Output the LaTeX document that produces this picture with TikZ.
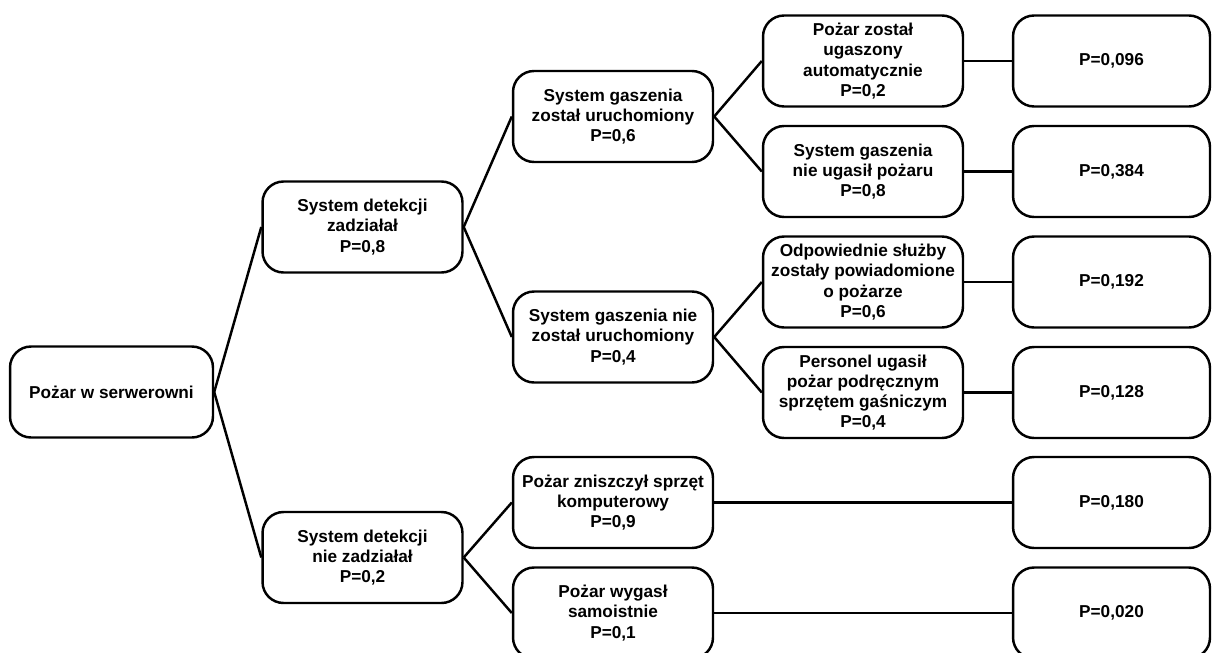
\documentclass[tikz,border=0pt]{standalone}
\usepackage{fontspec}
\setmainfont{Liberation Sans}
\begin{document}
\begin{tikzpicture}[x=0.02cm,y=-0.02cm,
  box/.style={draw, line width=1.4pt, rounded corners=0.42cm,
    minimum width=4cm, minimum height=1.82cm, align=center,
    inner sep=1pt, font=\fontsize{9.8}{11.5}\selectfont\bfseries},
  link/.style={line width=1.4pt}]
\useasboundingbox (0,0) rectangle (1212,652);
% root
\node[box, minimum width=4.06cm] (root) at (111.5,392) {Pożar w serwerowni};
% detection
\node[box] (det) at (362.5,227) {System detekcji\\zadziałał\\P=0,8};
\node[box] (nodet) at (362.5,557.5) {System detekcji\\nie zadziałał\\P=0,2};
% extinguishing system
\node[box] (ext) at (613,116.5) {System gaszenia\\został uruchomiony\\P=0,6};
\node[box] (noext) at (613,337) {System gaszenia nie\\został uruchomiony\\P=0,4};
\node[box] (destr) at (613,502.5) {Pożar zniszczył sprzęt\\komputerowy\\P=0,9};
\node[box] (self) at (613,613) {Pożar wygasł\\samoistnie\\P=0,1};
% outcomes of the extinguishing branches
\node[box] (auto) at (863,61) {Pożar został\\ugaszony\\automatycznie\\P=0,2};
\node[box] (fail) at (863,171.5) {System gaszenia\\nie ugasił pożaru\\P=0,8};
\node[box] (serv) at (863,282) {Odpowiednie służby\\zostały powiadomione\\o pożarze\\P=0,6};
\node[box] (staff) at (863,392.5) {Personel ugasił\\pożar podręcznym\\sprzętem gaśniczym\\P=0,4};
% final probabilities
\node[box, minimum width=3.94cm] (p1) at (1111.5,61) {P=0,096};
\node[box, minimum width=3.94cm] (p2) at (1111.5,171.5) {P=0,384};
\node[box, minimum width=3.94cm] (p3) at (1111.5,282) {P=0,192};
\node[box, minimum width=3.94cm] (p4) at (1111.5,392.5) {P=0,128};
\node[box, minimum width=3.94cm] (p5) at (1111.5,502.5) {P=0,180};
\node[box, minimum width=3.94cm] (p6) at (1111.5,613) {P=0,020};
% branches
\draw[link] (root.east) -- (det.west);
\draw[link] (root.east) -- (nodet.west);
\draw[link] (det.east) -- (ext.west);
\draw[link] (det.east) -- (noext.west);
\draw[link] (nodet.east) -- (destr.west);
\draw[link] (nodet.east) -- (self.west);
\draw[link] (ext.east) -- (auto.west);
\draw[link] (ext.east) -- (fail.west);
\draw[link] (noext.east) -- (serv.west);
\draw[link] (noext.east) -- (staff.west);
\draw[link] (auto) -- (p1);
\draw[link] (fail) -- (p2);
\draw[link] (serv) -- (p3);
\draw[link] (staff) -- (p4);
\draw[link] (destr) -- (p5);
\draw[link] (self) -- (p6);
\end{tikzpicture}
\end{document}
